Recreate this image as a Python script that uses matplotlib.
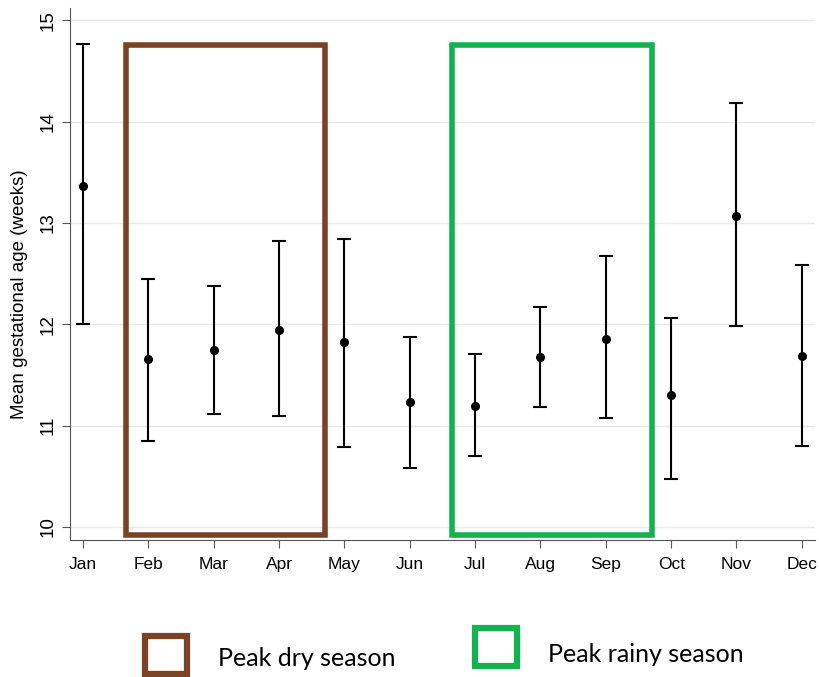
import matplotlib.pyplot as plt
from matplotlib.patches import Rectangle
import numpy as np

months = ["Jan", "Feb", "Mar", "Apr", "May", "Jun",
          "Jul", "Aug", "Sep", "Oct", "Nov", "Dec"]
mean_ga = [13.36, 11.66, 11.75, 11.94, 11.82, 11.23,
           11.19, 11.68, 11.85, 11.30, 13.07, 11.69]
upper_ci = [14.77, 12.45, 12.38, 12.82, 12.84, 11.87,
            11.71, 12.17, 12.67, 12.06, 14.18, 12.58]
lower_ci = [12.00, 10.85, 11.11, 11.09, 10.79, 10.58,
            10.70, 11.18, 11.07, 10.47, 11.98, 10.80]

# season boxes: (first month index, last month index)
dry_season = (1, 3)
rainy_season = (6, 8)
box_top = 14.76
box_bottom = 9.92

brown = "#7a4325"
green = "#14b14f"

plt.rcParams["font.family"] = ["Liberation Sans", "DejaVu Sans"]

fig = plt.figure(figsize=(8.19, 6.77), dpi=100)
ax = fig.add_axes([0.0855, 0.2024, 0.9095, 0.7856])

x = np.arange(len(months))
mean_arr = np.array(mean_ga)
yerr = [mean_arr - np.array(lower_ci), np.array(upper_ci) - mean_arr]
ax.errorbar(x, mean_ga, yerr=yerr, fmt="o", color="black", ms=5.5,
            elinewidth=1.5, capsize=5, capthick=1.5, zorder=3)

for (a, b), col in [(dry_season, brown), (rainy_season, green)]:
    ax.add_patch(Rectangle((a - 0.35, box_bottom), (b - a) + 1.05,
                           box_top - box_bottom, fill=False,
                           edgecolor=col, lw=4, joinstyle="miter", zorder=2))

ax.set_xlim(-0.2, 11.2)
ax.set_ylim(9.87, 15.12)
ax.set_xticks(x)
ax.set_xticklabels(months, fontsize=12.5)
ax.set_yticks([10, 11, 12, 13, 14, 15])
ax.set_yticklabels(["10", "11", "12", "13", "14", "15"], fontsize=13.5,
                   rotation=90, va="center")
ax.set_ylabel("Mean gestational age (weeks)", fontsize=13.5)
ax.yaxis.set_label_coords(-0.056, 0.462)
ax.grid(axis="y", color="#e8eaea", lw=1)
ax.set_axisbelow(True)
for s in ["top", "right"]:
    ax.spines[s].set_visible(False)
for s in ["left", "bottom"]:
    ax.spines[s].set_color("#555555")
ax.tick_params(color="#555555", length=6)
ax.tick_params(axis="x", pad=6)

# legend drawn below the plot
leg_items = [(brown, "Peak dry season", 145, 636, 659),
             (green, "Peak rainy season", 475, 628, 655)]
W, H = 819, 677
for col, label, px, py, ty in leg_items:
    fig.add_artist(Rectangle((px / W, 1 - (py + 38) / H), 42 / W, 38 / H,
                             transform=fig.transFigure, fill=False,
                             edgecolor=col, lw=4.5, joinstyle="miter"))
    fig.text((px + 73) / W, 1 - ty / H, label, fontsize=18,
             family=["Lato", "DejaVu Sans"], va="center")

fig.savefig("out.png", dpi=100)
